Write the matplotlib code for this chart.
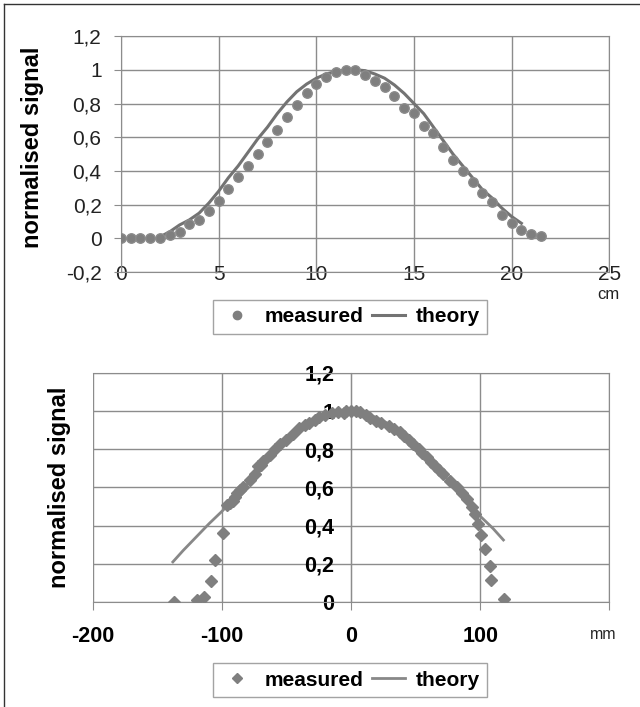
import matplotlib
matplotlib.use("Agg")
import matplotlib.pyplot as plt
from matplotlib.lines import Line2D

plt.rcParams['font.family'] = ['Liberation Sans', 'DejaVu Sans']

# top panel, distance in cm
top_x = [0, 0.5, 1, 1.5, 2, 2.5, 3, 3.5, 4, 4.5, 5, 5.5, 6, 6.5, 7, 7.5, 8, 8.5,
         9, 9.5, 10, 10.5, 11, 11.5, 12, 12.5, 13, 13.5, 14, 14.5, 15, 15.5,
         16, 16.5, 17, 17.5, 18, 18.5, 19, 19.5, 20, 20.5, 21, 21.5]
top_meas = [0, 0, 0, 0, 0.005, 0.018, 0.037, 0.083, 0.11, 0.162, 0.22, 0.295,
            0.364, 0.428, 0.499, 0.57, 0.642, 0.72, 0.79, 0.86, 0.913, 0.955,
            0.985, 1.0, 1.0, 0.968, 0.935, 0.899, 0.844, 0.776, 0.745, 0.665,
            0.626, 0.543, 0.463, 0.4, 0.333, 0.269, 0.214, 0.137, 0.091, 0.052,
            0.028, 0.012]
top_th_x = [2, 2.5, 3, 3.5, 4, 4.5, 5, 5.5, 6, 6.5, 7, 7.5, 8, 8.5, 9, 9.5, 10,
            10.5, 11, 11.5, 12, 12.5, 13, 13.5, 14, 14.5, 15, 15.5, 16, 16.5,
            17, 17.5, 18, 18.5, 19, 19.5, 20, 20.5]
top_th = [0.01, 0.04, 0.08, 0.11, 0.15, 0.21, 0.28, 0.36, 0.43, 0.51, 0.59,
          0.66, 0.74, 0.81, 0.87, 0.915, 0.95, 0.975, 0.99, 1.0, 1.0, 0.995,
          0.975, 0.95, 0.91, 0.86, 0.8, 0.74, 0.66, 0.58, 0.5, 0.43, 0.36,
          0.29, 0.24, 0.18, 0.13, 0.09]

# bottom panel, distance in mm
bot_x = [-137.4, -119.5, -113.8, -108.5, -105.4, -99, -96, -94, -91.3, -90,
         -88.7, -86, -83.6, -78, -74.6, -72, -70, -68.2, -63, -59.2, -55,
         -50.2, -45.1, -40, -36, -32.3, -28, -24.6, -20, -14.4, -10, -5.4,
         -4.1, 0, 3.6, 7, 11.3, 15, 19, 23, 29.2, 33, 38.2, 41, 44.6, 48, 52.3,
         55, 58.7, 62, 65.1, 68, 71.5, 77, 81.8, 86, 89.5, 93.3, 95.9, 98.5,
         101, 103.6, 107.4, 108.7, 118.2]
bot_meas = [0.0, 0.01, 0.028, 0.11, 0.22, 0.36, 0.51, 0.52, 0.53, 0.55, 0.57,
            0.585, 0.6, 0.64, 0.67, 0.71, 0.72, 0.74, 0.77, 0.8, 0.83, 0.85,
            0.88, 0.91, 0.925, 0.94, 0.955, 0.97, 0.98, 0.99, 0.995, 0.99, 1.0,
            1.0, 1.0, 0.995, 0.98, 0.965, 0.95, 0.94, 0.92, 0.905, 0.89, 0.87,
            0.85, 0.83, 0.8, 0.78, 0.76, 0.735, 0.71, 0.69, 0.67, 0.635, 0.6,
            0.57, 0.54, 0.5, 0.46, 0.41, 0.35, 0.28, 0.19, 0.115, 0.014]
bot_th_x = [-138, -130, -120, -110, -100, -90, -80, -70, -60, -50, -40, -30,
            -20, -10, 0, 10, 20, 30, 40, 50, 60, 70, 80, 90, 100, 110, 118]
bot_th = [0.21, 0.27, 0.34, 0.41, 0.475, 0.545, 0.62, 0.69, 0.77, 0.84, 0.9,
          0.945, 0.975, 0.995, 1.0, 0.99, 0.965, 0.93, 0.88, 0.82, 0.75, 0.68,
          0.6, 0.52, 0.45, 0.385, 0.325]

top_yticks = [-0.2, 0, 0.2, 0.4, 0.6, 0.8, 1.0, 1.2]
top_ylabels = ['-0,2', '0', '0,2', '0,4', '0,6', '0,8', '1', '1,2']
top_xticks = [0, 5, 10, 15, 20, 25]
bot_yticks = [0, 0.2, 0.4, 0.6, 0.8, 1.0, 1.2]
bot_ylabels = ['0', '0,2', '0,4', '0,6', '0,8', '1', '1,2']
bot_xticks = [-200, -100, 0, 100, 200]
bot_xlabels = ['-200', '-100', '0', '100', '']

dot_col = '#7f7f7f'
line_col = '#737373'
grid_col = '#8c8c8c'

fig = plt.figure(figsize=(6.4, 7.07), dpi=100)

# ---- top chart ----
ax1 = fig.add_axes([0.189, 0.615, 0.763, 0.334])
ax1.plot(top_th_x, top_th, color=line_col, lw=2.2, zorder=3)
ax1.plot(top_x, top_meas, 'o', color=dot_col, ms=6.8, mec='#8a8a8a', zorder=4)
ax1.set_xlim(0, 25)
ax1.set_ylim(-0.2, 1.2)
ax1.set_xticks(top_xticks)
ax1.set_yticks(top_yticks)
ax1.set_yticklabels(top_ylabels)
ax1.grid(True, color=grid_col, lw=1)
ax1.tick_params(axis='x', length=0, pad=-5, labelsize=15, colors='#222222')
ax1.tick_params(axis='y', direction='out', length=5, pad=9, labelsize=15,
                color=grid_col, labelcolor='#222222')
for s in ax1.spines.values():
    s.set_color(grid_col)
ax1.set_ylabel('normalised signal', fontsize=17, fontweight='bold')
ax1.yaxis.set_label_coords(-0.157, 0.53)
fig.text(0.95, 0.583, 'cm', fontsize=12, ha='center', va='center', color='#222222')

h1 = [Line2D([], [], ls='none', marker='o', color=dot_col, ms=6),
      Line2D([], [], color=line_col, lw=2.2)]
fig.legend(h1, ['measured', 'theory'], loc='center', bbox_to_anchor=(0.547, 0.552),
           ncol=2, frameon=True, fancybox=False, edgecolor=grid_col,
           prop={'size': 15, 'weight': 'bold'}, handlelength=1.6,
           columnspacing=0.4, handletextpad=0.5, borderpad=0.35)

# ---- bottom chart ----
ax2 = fig.add_axes([0.145, 0.1485, 0.807, 0.324])
ax2.plot(bot_th_x, bot_th, color='#888888', lw=2.0, zorder=3)
ax2.plot(bot_x, bot_meas, 'D', color=dot_col, ms=6, zorder=4)
ax2.set_xlim(-200, 200)
ax2.set_ylim(0, 1.2)
ax2.set_xticks(bot_xticks)
ax2.set_xticklabels(bot_xlabels)
ax2.set_yticks(bot_yticks)
ax2.set_yticklabels(bot_ylabels)
ax2.grid(True, color=grid_col, lw=1)
ax2.spines['left'].set_position(('data', 0))
for s in ax2.spines.values():
    s.set_color(grid_col)
ax2.tick_params(axis='x', direction='out', length=6, pad=11, labelsize=15.5,
                color=grid_col)
ax2.tick_params(axis='y', length=0, pad=12, labelsize=15.5)
for lab in ax2.get_xticklabels() + ax2.get_yticklabels():
    lab.set_fontweight('bold')
ax2.set_ylabel('normalised signal', fontsize=17, fontweight='bold')
ax2.yaxis.set_label_coords(-0.043, 0.5, transform=ax2.transAxes)
fig.text(0.942, 0.102, 'mm', fontsize=11.5, ha='center', va='center', color='#222222')

h2 = [Line2D([], [], ls='none', marker='D', color=dot_col, ms=5),
      Line2D([], [], color='#888888', lw=2.0)]
fig.legend(h2, ['measured', 'theory'], loc='center', bbox_to_anchor=(0.547, 0.038),
           ncol=2, frameon=True, fancybox=False, edgecolor=grid_col,
           prop={'size': 15, 'weight': 'bold'}, handlelength=1.6,
           columnspacing=0.4, handletextpad=0.5, borderpad=0.35)

# frame of the original figure
fig.add_artist(Line2D([0.006, 0.006], [0, 0.995], color='#333333', lw=1,
                      transform=fig.transFigure))
fig.add_artist(Line2D([0.006, 1], [0.995, 0.995], color='#333333', lw=1,
                      transform=fig.transFigure))

fig.savefig('out.png', dpi=100)
